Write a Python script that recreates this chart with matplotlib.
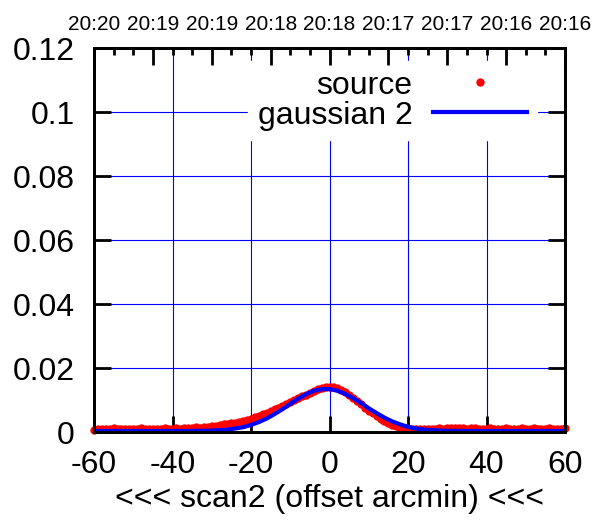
import matplotlib
matplotlib.use("Agg")
import matplotlib.pyplot as plt
import numpy as np

plt.rcParams['font.family'] = ['Liberation Sans', 'DejaVu Sans']

# ---- data ----
src_x = list(range(-60, 61))
src_y = [
    0.0007, 0.0009, 0.0010, 0.0008, 0.0009, 0.0011, 0.0008, 0.0009, 0.0010, 0.0008,
    0.0009, 0.0010, 0.0012, 0.0009, 0.0008, 0.0010, 0.0009, 0.0010, 0.0011, 0.0009,
    0.0010, 0.0011, 0.0010, 0.0012, 0.0011,
    0.0013, 0.0015, 0.0014, 0.0016, 0.0017, 0.0018, 0.0020, 0.0022, 0.0024, 0.0026,
    0.0027, 0.0029, 0.0032, 0.0035, 0.0038, 0.0042, 0.0046, 0.0050, 0.0055, 0.0060,
    0.0065, 0.0071, 0.0076, 0.0082, 0.0088, 0.0094, 0.0100, 0.0106, 0.0111, 0.0117,
    0.0122, 0.0128, 0.0133, 0.0137, 0.0140, 0.0142, 0.0141, 0.0137, 0.0131, 0.0124,
    0.0115, 0.0105, 0.0096, 0.0086, 0.0076, 0.0067, 0.0058, 0.0050, 0.0042, 0.0035,
    0.0028, 0.0022, 0.0018, 0.0014, 0.0012, 0.0010, 0.0009, 0.0008, 0.0009, 0.0008,
    0.0010, 0.0009, 0.0010, 0.0011, 0.0010, 0.0011, 0.0012, 0.0011, 0.0012, 0.0011,
    0.0010, 0.0011, 0.0012, 0.0010, 0.0009, 0.0010, 0.0011, 0.0010, 0.0009, 0.0010,
    0.0011, 0.0010, 0.0009, 0.0010, 0.0011, 0.0010, 0.0009, 0.0011, 0.0010, 0.0009,
    0.0010, 0.0011, 0.0010, 0.0009, 0.0010, 0.0011,
]

fit_x = list(range(-60, 61, 2))
fit_y = [
    0.0003, 0.0003, 0.0003, 0.0003, 0.0003, 0.0003, 0.0003, 0.0003, 0.0003, 0.0003,
    0.0003, 0.0003, 0.0003, 0.00034, 0.00037, 0.00044, 0.00055, 0.00074, 0.0011, 0.0015,
    0.0022, 0.0031, 0.0042, 0.0056, 0.0071, 0.0088, 0.0104, 0.0118, 0.0129, 0.0134,
    0.0134, 0.0129, 0.0119, 0.0106, 0.0091, 0.0074, 0.0059, 0.0045, 0.0033, 0.0024,
    0.0016, 0.0011, 0.00076, 0.00056, 0.00044, 0.00037, 0.00034, 0.0003, 0.0003, 0.0003,
    0.0003, 0.0003, 0.0003, 0.0003, 0.0003, 0.0003, 0.0003, 0.0003, 0.0003, 0.0003,
    0.0003,
]

xticks = [-60, -40, -20, 0, 20, 40, 60]
yticks = [0, 0.02, 0.04, 0.06, 0.08, 0.1, 0.12]
ytick_labels = ['0', '0.02', '0.04', '0.06', '0.08', '0.1', '0.12']
top_ticks = [-60, -45, -30, -15, 0, 15, 30, 45, 60]
top_labels = ['20:20', '20:19', '20:19', '20:18', '20:18', '20:17', '20:17', '20:16', '20:16']
top_minor = list(range(-60, 61, 5))

# ---- figure ----
W, H = 603, 529
FS = 23
fig = plt.figure(figsize=(W / 100, H / 100), dpi=100)
ax = fig.add_axes([94 / W, (H - 432) / H, (565 - 94) / W, (432 - 48) / H])
ax.set_xlim(-60, 60)
ax.set_ylim(0, 0.12)

# grid
for gx in [-40, -20, 0, 20, 40]:
    ax.axvline(gx, color='#0000ff', lw=0.8, zorder=1)
for gy in [0.02, 0.04, 0.06, 0.08, 0.1]:
    ax.axhline(gy, color='#0000ff', lw=0.8, zorder=1)

ax.plot(src_x, src_y, 'o', color='#ff0000', ms=6, mew=0, zorder=3,
        clip_on=False, label='source')
ax.plot(fit_x, fit_y, '-', color='#0000ff', lw=3, zorder=4, label='gaussian 2')

ax.set_xticks(xticks)
ax.set_xticklabels([str(v) for v in xticks])
ax.set_yticks(yticks)
ax.set_yticklabels(ytick_labels)
ax.tick_params(axis='x', which='major', direction='in', length=11.5, width=2,
               labelsize=FS, pad=13, top=False, bottom=True)
ax.tick_params(axis='y', which='major', direction='in', length=12, width=2,
               labelsize=FS, pad=14, left=True, right=True)
for s in ax.spines.values():
    s.set_linewidth(2)
    s.set_zorder(6)

ax.set_xlabel('<<< scan2 (offset arcmin) <<<', fontsize=FS, labelpad=3)

ax2 = ax.twiny()
ax2.set_xlim(-60, 60)
ax2.set_xticks(top_ticks)
ax2.set_xticklabels(top_labels)
ax2.set_xticks(top_minor, minor=True)
ax2.tick_params(axis='x', which='major', direction='in', length=12, width=2,
                labelsize=15, pad=10)
ax2.tick_params(axis='x', which='minor', direction='in', length=5, width=2)
for s in ax2.spines.values():
    s.set_linewidth(2)

leg = ax.legend(loc='upper right', bbox_to_anchor=((537 - 94) / 471, 1 - 13 / 384),
                fontsize=FS, frameon=True, markerfirst=False, handlelength=2.95,
                handletextpad=0.65, borderpad=0.3, labelspacing=0.0,
                markerscale=1.0, fancybox=False, borderaxespad=0)
leg.get_frame().set_edgecolor('white')
leg.get_frame().set_facecolor('white')
leg.get_frame().set_alpha(1)
leg.set_zorder(5)

fig.savefig('out.png', dpi=100)
